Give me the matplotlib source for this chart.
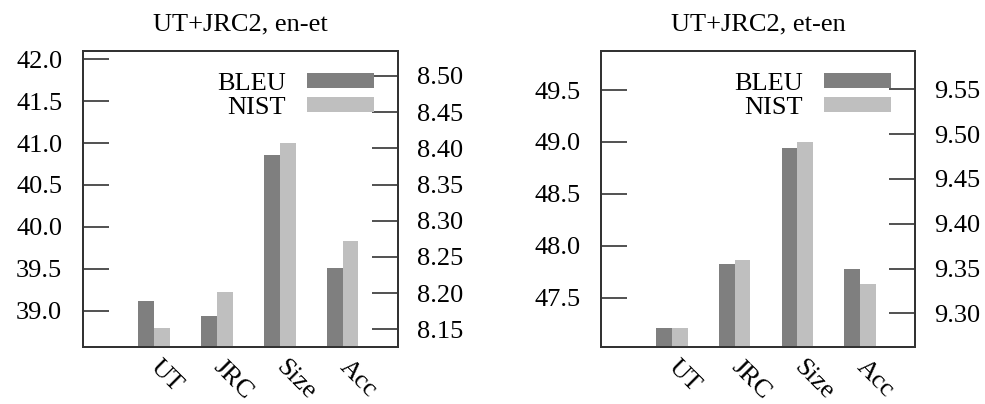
import numpy as np
import matplotlib
matplotlib.use('Agg')
import matplotlib.pyplot as plt

plt.rcParams['font.family'] = ['Liberation Serif', 'DejaVu Serif']
plt.rcParams['font.size'] = 19

# --- Data ---
categories = ['UT', 'JRC', 'Size', 'Acc']
series_names = ['BLEU', 'NIST']

en_et_bleu = [39.11, 38.94, 40.86, 39.51]
en_et_nist = [8.152, 8.202, 8.408, 8.272]

et_en_bleu = [47.21, 47.82, 48.945, 47.78]
et_en_nist = [9.284, 9.360, 9.491, 9.333]

titles = ['UT+JRC2, en-et', 'UT+JRC2, et-en']

dark = '#7f7f7f'
light = '#bfbfbf'
edge = '#333333'


def draw_panel(rect, title, bleu, nist, ylim1, yticks1, ylim2, yticks2):
    ax = fig.add_axes(rect)
    ax2 = ax.twinx()
    x = np.arange(len(categories))
    w = 0.25
    # bars start at the bottom of each axis (gnuplot style)
    b1 = ax.bar(x - w / 2, np.array(bleu) - ylim1[0], width=w, color=dark,
                bottom=ylim1[0], zorder=2)
    b2 = ax2.bar(x + w / 2, np.array(nist) - ylim2[0], width=w, color=light,
                 bottom=ylim2[0], zorder=2)

    ax.set_xlim(-1.13, 3.88)
    ax.set_ylim(*ylim1)
    ax2.set_ylim(*ylim2)
    ax.set_yticks(yticks1)
    ax.set_yticklabels([f'{t:.1f}' for t in yticks1])
    ax2.set_yticks(yticks2)
    ax2.set_yticklabels([f'{t:.2f}' for t in yticks2])

    ax.set_xticks(x)
    ax.set_xticklabels(categories, rotation=-45, ha='left', va='center',
                       rotation_mode='anchor')
    ax.tick_params(axis='x', length=0, pad=12)
    ax.tick_params(axis='y', direction='in', length=19, width=1.2,
                   color=edge, pad=15)
    ax2.tick_params(axis='y', direction='in', length=19, width=1.2,
                    color=edge, pad=14)
    for a in (ax, ax2):
        for s in a.spines.values():
            s.set_color(edge)
            s.set_linewidth(1.4)

    ax.set_title(title, fontsize=19, pad=15)

    leg = ax2.legend([b1, b2], series_names, loc='upper right',
                     bbox_to_anchor=(0.924, 0.926), frameon=False,
                     markerfirst=False, handlelength=2.54, handleheight=0.47,
                     labelspacing=0.08, handletextpad=0.8, fontsize=19,
                     borderaxespad=0, borderpad=0)
    for t in leg.get_texts():
        t.set_ha('right')
    return ax, ax2


fig = plt.figure(figsize=(9.85, 4.04), dpi=100)

draw_panel([0.0843, 0.1411, 0.3198, 0.7327], titles[0], en_et_bleu, en_et_nist,
           (38.567, 42.099), [39.0, 39.5, 40.0, 40.5, 41.0, 41.5, 42.0],
           (8.1255, 8.5345), [8.15, 8.20, 8.25, 8.30, 8.35, 8.40, 8.45, 8.50])

draw_panel([0.6102, 0.1411, 0.3188, 0.7327], titles[1], et_en_bleu, et_en_nist,
           (47.025, 49.876), [47.5, 48.0, 48.5, 49.0, 49.5],
           (9.2624, 9.5928), [9.30, 9.35, 9.40, 9.45, 9.50, 9.55])

fig.savefig('out.png', dpi=100)
